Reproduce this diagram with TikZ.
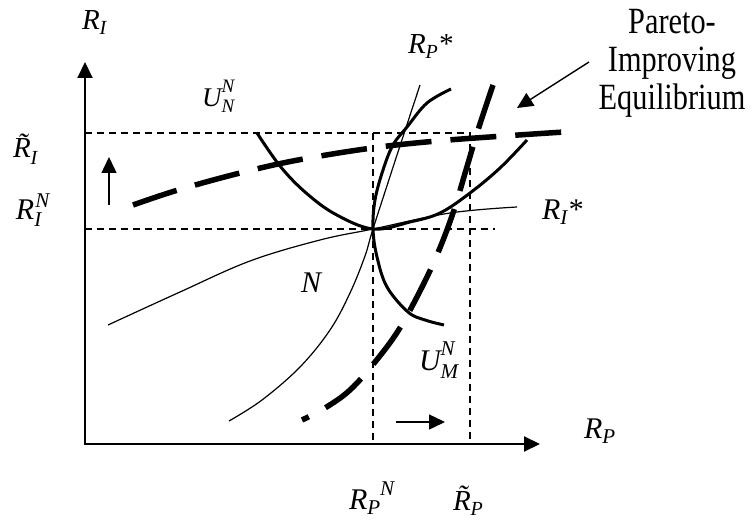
\documentclass[tikz,border=0pt]{standalone}
\usepackage{fontspec}
\setmainfont{Liberation Serif}
\usetikzlibrary{arrows.meta}
\newcommand{\fsz}[1]{\fontsize{#1pt}{#1pt}\selectfont\itshape}
% raised/lowered small text: \shift{raise in pt}{size}{text}
\newcommand{\shift}[3]{\raisebox{#1pt}{\fontsize{#2pt}{#2pt}\selectfont\itshape #3}}
\begin{document}
\begin{tikzpicture}[x=1pt,y=-1pt,
  axisline/.style={line width=2pt, {Triangle[length=16pt,width=15pt]}-{Triangle[length=16pt,width=15pt]}},
  thincurve/.style={line width=1.2pt},
  thickcurve/.style={line width=3pt},
  bigdash/.style={line width=5.5pt, dash pattern=on 46pt off 19pt},
  guide/.style={line width=1.3pt, dash pattern=on 7pt off 5pt},
  arrowed/.style={line width=1.4pt, -{Triangle[length=16pt,width=15pt]}},
  lbl/.style={inner sep=0pt, outer sep=0pt, anchor=base west}]
\useasboundingbox (0,0) rectangle (754,521);

% axes
\coordinate (O) at (85,444);
\coordinate (XE) at (540,444);
\coordinate (YE) at (85,62);
\draw[axisline] (YE) -- (O) -- (XE);

% guide lines
\coordinate (TL) at (85,133);
\coordinate (TR) at (470,133);
\coordinate (NL) at (85,229);
\coordinate (NR) at (495,229);
\coordinate (PN) at (373,133);
\coordinate (PNb) at (373,444);
\coordinate (PTb) at (470,444);
\draw[guide] (TL) -- (TR) -- (PTb);
\draw[guide] (PN) -- (PNb);
\draw[guide] (NL) -- (NR);

% reaction curves (thin)
\draw[thincurve] plot[smooth, tension=0.6] coordinates {(108,325) (180,292) (250,261) (320,240) (373,229) (450,213) (517,207)};
\draw[thincurve] plot[smooth, tension=0.6] coordinates {(229,421) (262,400) (300,367) (330,330) (350,293) (365,256) (373,229) (397,155) (420,85)};

% indifference curves (thick)
\draw[thickcurve] plot[smooth, tension=0.6] coordinates {(257,133) (280,166) (305,192) (335,214) (373,229) (410,222) (440,213) (470,193) (500,168) (527,140)};
\draw[thickcurve] plot[smooth, tension=0.6] coordinates {(451,89) (427,103) (407,127) (393,145) (383,170) (375,200) (373,229) (377,257) (387,287) (408,312) (425,320) (444,325)};

% shifted curves (thick dashed)
\draw[bigdash] plot[smooth, tension=0.6] coordinates {(133,205) (178,190) (240,173) (298,160) (372,148) (437,141) (504,136) (564,132)};
\draw[bigdash] plot[smooth, tension=0.6] coordinates {(493,85) (478,130) (466,170) (453,213) (437,255) (419,293) (398,331) (375,362) (350,390) (325,408) (302,420)};

% small arrows
\coordinate (ua) at (109,205);
\coordinate (ub) at (109,157);
\draw[arrowed] (ua) -- (ub);
\coordinate (ra) at (396,422);
\coordinate (rb) at (445,422);
\draw[arrowed] (ra) -- (rb);

% Pareto label and arrow
\node[inner sep=0pt, align=center, font=\fontsize{37pt}{38pt}\selectfont, xscale=0.82, transform shape] (pareto) at (672,63) {Pareto-\\Improving\\Equilibrium};
\coordinate (pa) at (589,62);
\coordinate (pb) at (517,108);
\draw[arrowed] (pa) -- (pb);

% labels
\node[lbl, font=\fsz{29}] (lRI) at (82,30) {R\shift{-5}{20}{I}};
\node[lbl, font=\fsz{27}] (lUN) at (202,107) {U\rlap{\shift{14}{19}{N}}\shift{-6}{19}{N}};
\node[lbl, font=\fsz{29}] (lRIt) at (13,158) {\~R\shift{-7}{20}{I}};
\node[lbl, font=\fsz{30}] (lRIN) at (16,220) {R\rlap{\shift{-6}{21}{I}}\hspace{1pt}\shift{13}{21}{N}};
\node[lbl, font=\fsz{30}] (lN) at (301,292) {N};
\node[lbl, font=\fsz{29}] (lRPs) at (408,54) {R\shift{-5}{20}{P}*};
\node[lbl, font=\fsz{30}] (lRIs) at (542,220) {R\shift{-5}{21}{I}*};
\node[lbl, font=\fsz{30}] (lUM) at (419,370) {U\rlap{\shift{15}{21}{N}}\shift{-8}{21}{M}};
\node[lbl, font=\fsz{30}] (lRP) at (584,438) {R\shift{-5}{21}{P}};
\node[lbl, font=\fsz{30}] (lRPN) at (349,509) {R\shift{-5}{21}{P}\shift{14}{21}{N}};
\node[lbl, font=\fsz{29}] (lRPt) at (453,510) {\~R\shift{-5}{20}{P}};
\end{tikzpicture}
\end{document}
